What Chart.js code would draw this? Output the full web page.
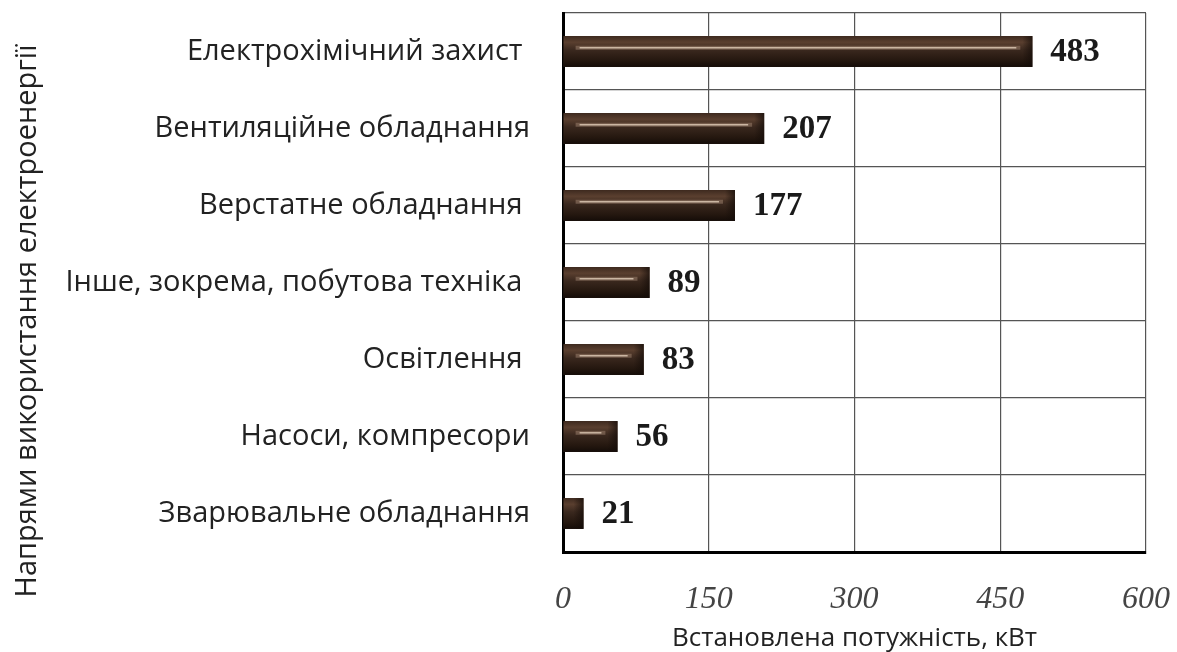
<!DOCTYPE html>
<html>
<head>
<meta charset="utf-8">
<script src="https://cdn.jsdelivr.net/npm/chart.js@4"></script>
<style>
  html, body { margin: 0; padding: 0; background: #fff; }
  #wrap { width: 1177px; height: 652px; }
</style>
</head>
<body>
<div id="wrap"><canvas id="powerChart" width="1177" height="652"></canvas></div>
<script>
const categories = [
  "Електрохімічний захист ",
  "Вентиляційне обладнання",
  "Верстатне обладнання ",
  "Інше, зокрема, побутова техніка ",
  "Освітлення ",
  "Насоси, компресори",
  "Зварювальне обладнання"
];
const powerValues = [483, 207, 177, 89, 83, 56, 21];
const xTicks = [0, 150, 300, 450, 600];
const xTitle = "Встановлена потужність, кВт";
const yTitle = "Напрями використання електроенергії";

// bevelled bar look + value labels
const barStyle = {
  id: 'barStyle',
  afterDatasetsDraw(chart) {
    const ctx = chart.ctx;
    const meta = chart.getDatasetMeta(0);
    ctx.save();
    meta.data.forEach((bar, i) => {
      const { x, y, base, height } = bar.getProps(['x', 'y', 'base', 'height'], true);
      const top = y - height / 2;
      const w = x - base;
      const g = ctx.createLinearGradient(0, top, 0, top + height);
      g.addColorStop(0, '#3e2a1f');
      g.addColorStop(0.2, '#5a3f2f');
      g.addColorStop(0.45, '#3a281e');
      g.addColorStop(0.8, '#24170f');
      g.addColorStop(1, '#140c08');
      ctx.fillStyle = g;
      ctx.fillRect(base, top, w, height);
      // darker bevel at the end
      const e = Math.min(10, w / 2);
      const eg = ctx.createLinearGradient(x - e, 0, x, 0);
      eg.addColorStop(0, 'rgba(20, 12, 8, 0)');
      eg.addColorStop(1, 'rgba(20, 12, 8, 0.7)');
      ctx.fillStyle = eg;
      ctx.fillRect(x - e, top, e, height);
      if (w > 30) {
        const hy = top + height * 0.38;
        ctx.strokeStyle = 'rgba(200, 170, 145, 0.35)';
        ctx.lineWidth = 4;
        ctx.beginPath();
        ctx.moveTo(base + 12, hy);
        ctx.lineTo(x - 12, hy);
        ctx.stroke();
        ctx.strokeStyle = 'rgba(225, 205, 185, 0.8)';
        ctx.lineWidth = 1.5;
        ctx.beginPath();
        ctx.moveTo(base + 16, hy);
        ctx.lineTo(x - 16, hy);
        ctx.stroke();
      }
      ctx.fillStyle = '#1a1a1a';
      ctx.font = 'bold 33px "Liberation Serif", "Times New Roman", serif';
      ctx.textAlign = 'left';
      ctx.textBaseline = 'middle';
      ctx.fillText(String(powerValues[i]), x + 18, y + 1);
    });
    ctx.restore();
  }
};

const yTitlePlugin = {
  id: 'yTitlePlugin',
  afterDraw(chart) {
    const ctx = chart.ctx;
    ctx.save();
    ctx.translate(28, 321);
    ctx.rotate(-Math.PI / 2);
    ctx.fillStyle = '#222';
    ctx.font = '29px "Open Sans", sans-serif';
    ctx.textAlign = 'center';
    ctx.textBaseline = 'middle';
    ctx.fillText(yTitle, 0, 0);
    ctx.restore();
  }
};

const ctx = document.getElementById('powerChart').getContext('2d');
new Chart(ctx, {
  type: 'bar',
  data: {
    labels: categories,
    datasets: [{
      data: powerValues,
      backgroundColor: '#3a281e',
      borderWidth: 0,
      barPercentage: 0.8,
      categoryPercentage: 0.5
    }]
  },
  options: {
    indexAxis: 'y',
    responsive: false,
    animation: false,
    layout: { padding: { top: 13, right: 31, left: 0, bottom: 0 } },
    plugins: {
      legend: { display: false },
      tooltip: { enabled: false }
    },
    scales: {
      x: {
        min: 0,
        max: 600,
        afterBuildTicks: (scale) => { scale.ticks = xTicks.map(v => ({ value: v })); },
        afterFit: (scale) => {
          scale.height = 100;
          scale.paddingLeft = 0;
          scale.paddingRight = 0;
        },
        grid: { color: '#555', lineWidth: 1.2, drawTicks: false },
        border: { display: true, color: '#000', width: 3 },
        ticks: {
          padding: 28,
          color: '#444',
          font: { family: '"Liberation Serif", "Times New Roman", serif', size: 32, style: 'italic' }
        },
        title: {
          display: true,
          text: xTitle,
          color: '#222',
          padding: { top: 0, bottom: -2 },
          font: { family: '"Open Sans", sans-serif', size: 26 }
        }
      },
      y: {
        afterFit: (scale) => {
          scale.width = 563;
          scale.paddingTop = 0;
          scale.paddingBottom = 0;
        },
        grid: { color: '#555', lineWidth: 1.2, drawTicks: false, offset: true },
        border: { display: true, color: '#000', width: 3 },
        ticks: {
          padding: 33,
          color: '#222',
          font: { family: '"Open Sans", sans-serif', size: 29 }
        }
      }
    }
  },
  plugins: [barStyle, yTitlePlugin]
});
</script>
</body>
</html>
